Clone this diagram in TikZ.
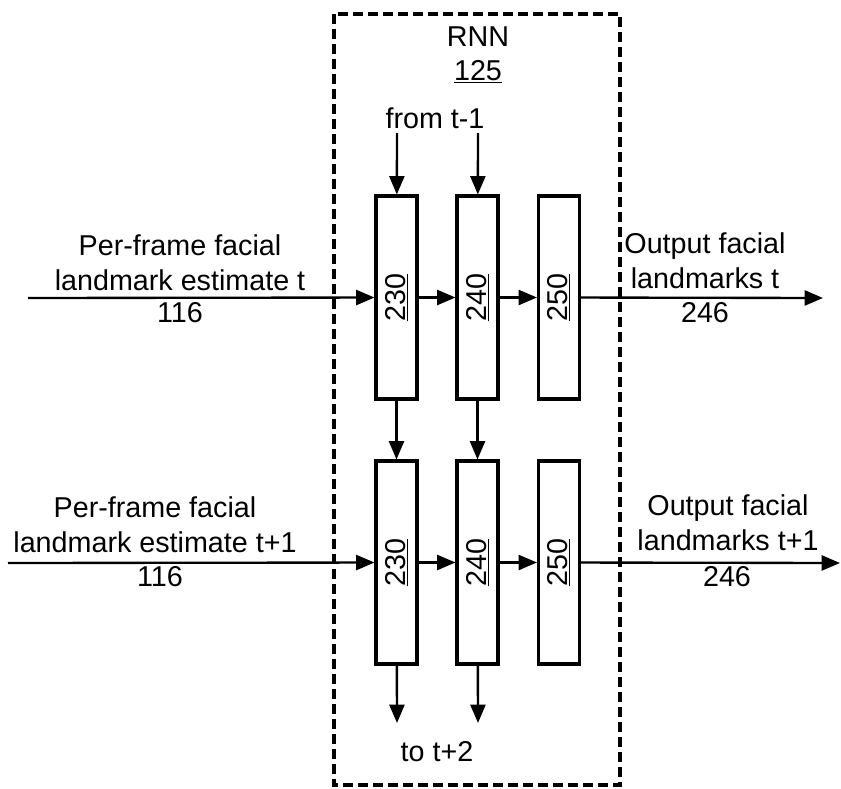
\documentclass[tikz,border=0pt]{standalone}
\usepackage{fontspec}
\setmainfont{Liberation Sans}
\usetikzlibrary{
  arrows.meta,
  positioning
}

\begin{document}
\begin{tikzpicture}[
  x=0.03cm, y=-0.03cm,
  font=\fontsize{24.5}{30}\selectfont,
  unit/.style={
    draw, line width=2.6pt, rotate=90, inner sep=0pt,
    minimum width=6.09cm, minimum height=1.23cm
  },
  arr/.style={-{Triangle[length=0.55cm, width=0.45cm]}, line width=2pt},
  lbl/.style={align=center, inner sep=0pt},
]
\useasboundingbox (0,0) rectangle (841,789);

% recurrent block
\draw[line width=2.6pt, dash pattern=on 0.3cm off 0.15cm] (334,14) rectangle (620,785);
\node[lbl] (rnn)    at (478,37)  {RNN};
\node[lbl] (rnnnum) at (478,72)  {\underline{125}};
\node[lbl] (from)   at (435,118) {from t-1};
\node[lbl] (to)     at (437,752) {to t+2};

% time step t
\node[unit] (t230) at (396.5,297.5) {\underline{230}};
\node[unit] (t240) at (477.5,297.5) {\underline{240}};
\node[unit] (t250) at (559,297.5)   {\underline{250}};

% time step t+1
\node[unit] (b230) at (396.5,562.5) {\underline{230}};
\node[unit] (b240) at (477.5,562.5) {\underline{240}};
\node[unit] (b250) at (559,562.5)   {\underline{250}};

\coordinate (prev230) at (397,133);
\coordinate (prev240) at (478,133);
\coordinate (next230) at (397,723);
\coordinate (next240) at (478,723);
\coordinate (inT)     at (28,298);
\coordinate (inB)     at (8,563);
\coordinate (outT)    at (823,298);
\coordinate (outB)    at (840,563);

% inputs / outputs
\node[lbl] (inTtxt)  at (180,263) {Per-frame facial\\landmark estimate t};
\node[lbl] (inTnum)  at (180,313) {116};
\node[lbl] (inBtxt)  at (155,525) {Per-frame facial\\landmark estimate t+1};
\node[lbl] (inBnum)  at (160,577) {116};
\node[lbl] (outTtxt) at (705,261) {Output facial\\landmarks t};
\node[lbl] (outTnum) at (705,313) {246};
\node[lbl] (outBtxt) at (728,523) {Output facial\\landmarks t+1};
\node[lbl] (outBnum) at (727,577) {246};

\draw[arr] (inT)  -- (t230);
\draw[arr] (t230) -- (t240);
\draw[arr] (t240) -- (t250);
\draw[arr] (t250) -- (outT);

\draw[arr] (inB)  -- (b230);
\draw[arr] (b230) -- (b240);
\draw[arr] (b240) -- (b250);
\draw[arr] (b250) -- (outB);

\draw[arr] (prev230) -- (t230);
\draw[arr] (prev240) -- (t240);
\draw[arr] (t230) -- (b230);
\draw[arr] (t240) -- (b240);
\draw[arr] (b230) -- (next230);
\draw[arr] (b240) -- (next240);

\end{tikzpicture}
\end{document}
